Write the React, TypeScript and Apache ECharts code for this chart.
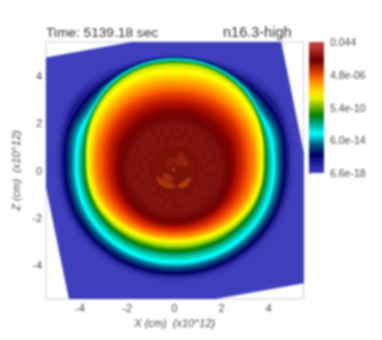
import React, { useEffect, useRef } from "react";
import * as echarts from "echarts";

const titleText = "Time: 5139.18 sec";
const runName = "n16.3-high";
const xName = "X (cm)  (x10^12)";
const zName = "Z (cm)  (x10^12)";
const axisLabels = [-4, -2, 0, 2, 4];
const axisTicks = [-5.4,-5.2,-5,-4.8,-4.6,-4.4,-4.2,-4,-3.8,-3.6,-3.4,-3.2,-3,-2.8,-2.6,-2.4,-2.2,-2,-1.8,-1.6,-1.4,-1.2,-1,-0.8,-0.6,-0.4,-0.2,0,0.2,0.4,0.6,0.8,1,1.2,1.4,1.6,1.8,2,2.2,2.4,2.6,2.8,3,3.2,3.4,3.6,3.8,4,4.2,4.4,4.6,4.8,5,5.2,5.4];
const colorbarLabels = ["6.6e-18", "6.0e-14", "5.4e-10", "4.8e-06", "0.044"];
const colorbarStops: [number, string][] = [
  [0, "#c44a4a"], [0.06, "#b02a2a"], [0.14, "#660000"], [0.23, "#d83a00"], [0.29, "#ff7f00"],
  [0.38, "#ffdc00"], [0.43, "#e8f000"], [0.48, "#90c000"], [0.56, "#008000"], [0.62, "#00a080"],
  [0.7, "#00ffff"], [0.78, "#006080"], [0.86, "#000060"], [0.93, "#2020a0"], [1, "#4040c0"],
];

// The rotated square of the simulation domain, in axis units.
const domainCorners = [[-6.53, 4.59], [4.31, 6.55], [6.58, -4.58], [-4.25, -6.51]];
const domainColor = "#3f3fbd";

// Contour centre, and the contour radii read every 15 degrees on the right half,
// from the top (90) through the side (0) to the bottom (-90).
const contourCentre = [0.03, 0.5];
const contourAngles = [90, 75, 60, 45, 30, 15, 0, -15, -30, -45, -60, -75, -90];
const contourColors = ["#3a3ab6","#2f2fa9","#1b1b8a","#000060","#003372","#006888","#00a8b8","#00e4e8","#00ffff","#00d8b4","#00ac84","#009054","#008000","#40a000","#90c800","#d0e800","#e8f400","#ffff00","#ffe800","#ffd000","#ffb800","#ffa000","#ff8800","#ff7000","#f45800","#e84000","#d83000","#c82000","#b81800","#a81000","#940800","#800000","#700404","#760a08","#7e100e"];
const contourRadii = [
  [4.36,4.42,4.6,4.92,5.1,5.08,5.05,5.12,5.19,5.22,5.22,5.21,5.2],
  [4.34,4.38,4.52,4.78,5.0,4.98,4.94,5.01,5.085,5.11,5.115,5.11,5.1],
  [4.32,4.34,4.42,4.6,4.85,4.87,4.84,4.91,4.985,5.01,5.015,5.01,5.0],
  [4.30,4.31,4.34,4.45,4.62,4.74,4.72,4.79,4.87,4.9,4.91,4.91,4.9],
  [4.29,4.30,4.31,4.36,4.48,4.62,4.60,4.67,4.75,4.78,4.79,4.79,4.78],
  [4.27,4.28,4.28,4.29,4.32,4.49,4.46,4.54,4.61,4.645,4.66,4.655,4.65],
  [4.25,4.26,4.25,4.24,4.2,4.35,4.33,4.41,4.49,4.53,4.55,4.55,4.55],
  [4.23,4.24,4.23,4.19,4.12,4.26,4.26,4.34,4.42,4.46,4.48,4.48,4.48],
  [4.21,4.22,4.21,4.15,4.08,4.2,4.22,4.3,4.38,4.42,4.44,4.44,4.44],
  [4.19,4.2,4.19,4.13,4.05,4.1,4.12,4.19,4.27,4.3,4.31,4.31,4.3],
  [4.17,4.18,4.17,4.12,4.03,4.02,4.03,4.1,4.17,4.185,4.18,4.17,4.16],
  [4.15,4.16,4.15,4.11,4.01,3.95,3.93,4.0,4.065,4.08,4.075,4.06,4.05],
  [4.13,4.14,4.13,4.09,4.0,3.9,3.85,3.92,3.985,4.0,3.995,3.98,3.97],
  [4.10,4.12,4.11,4.07,3.98,3.88,3.81,3.87,3.93,3.925,3.9,3.875,3.86],
  [4.06,4.09,4.08,4.04,3.96,3.86,3.79,3.85,3.89,3.87,3.83,3.79,3.77],
  [3.98,4.02,4.02,3.98,3.91,3.83,3.76,3.81,3.84,3.8,3.74,3.69,3.66],
  [3.87,3.92,3.94,3.92,3.87,3.8,3.73,3.78,3.8,3.75,3.68,3.62,3.59],
  [3.75,3.82,3.85,3.86,3.83,3.78,3.7,3.745,3.76,3.695,3.61,3.545,3.51],
  [3.62,3.68,3.72,3.74,3.73,3.69,3.63,3.68,3.695,3.64,3.565,3.5,3.47],
  [3.50,3.55,3.6,3.63,3.63,3.6,3.56,3.61,3.63,3.585,3.52,3.46,3.43],
  [3.39,3.44,3.49,3.52,3.54,3.53,3.5,3.55,3.575,3.535,3.475,3.42,3.39],
  [3.28,3.33,3.38,3.42,3.45,3.46,3.44,3.49,3.52,3.485,3.43,3.38,3.35],
  [3.15,3.2,3.25,3.31,3.35,3.38,3.38,3.43,3.46,3.43,3.37,3.325,3.295],
  [3.03,3.06,3.12,3.2,3.25,3.3,3.32,3.37,3.405,3.37,3.315,3.27,3.24],
  [2.91,2.95,3.01,3.09,3.14,3.18,3.185,3.245,3.29,3.275,3.24,3.205,3.185],
  [2.8,2.84,2.9,2.98,3.03,3.06,3.05,3.12,3.175,3.18,3.165,3.14,3.13],
  [2.67,2.71,2.77,2.85,2.91,2.95,2.95,3.02,3.08,3.1,3.09,3.075,3.065],
  [2.55,2.58,2.64,2.72,2.8,2.85,2.85,2.92,2.99,3.015,3.02,3.01,3.0],
  [2.45,2.48,2.54,2.61,2.69,2.75,2.75,2.825,2.905,2.94,2.955,2.955,2.95],
  [2.35,2.38,2.44,2.5,2.58,2.65,2.65,2.73,2.82,2.865,2.89,2.9,2.9],
  [2.22,2.25,2.3,2.37,2.45,2.54,2.55,2.635,2.73,2.79,2.83,2.845,2.85],
  [2.10,2.12,2.17,2.24,2.33,2.43,2.45,2.54,2.64,2.715,2.77,2.79,2.8],
  [1.85,1.87,1.92,2,2.08,2.18,2.28,2.375,2.495,2.59,2.665,2.705,2.72],
  [1.72,1.74,1.78,1.86,1.94,2.04,2.14,2.28,2.38,2.46,2.52,2.56,2.58],
  [1.55,1.57,1.61,1.69,1.78,1.88,1.98,2.11,2.22,2.3,2.36,2.4,2.42],
];

// Inner core: a disc with wedges of lighter material.
const coreCentre = [0.04, 0.0];
const coreEdge = 0.94;
const coreColor = "#7a1208";
const coreWedges = [
  { color: "#962410", pts: [[0.04,0.31],[0.25,0.8],[0.61,0.24],[0.4,0.17]] },
  { color: "#8c1c0e", pts: [[-0.17,0.56],[0,0.52],[-0.03,0.17],[-0.38,0.24]] },
  { color: "#ae3a08", pts: [[0.18,-0.6],[0.71,-0.28],[0.54,-0.68],[0.25,-0.75]] },
  { color: "#a83408", pts: [[-0.76,-0.28],[-0.31,-0.46],[0.11,-0.68],[-0.31,-0.75],[-0.62,-0.6]] },
  { color: "#982a0e", pts: [[-0.45,-0.11],[-0.03,-0.28],[-0.17,-0.6],[-0.45,-0.39]] },
];
const coreSpot = [[-0.02, 0.03]];

// Mottled plumes round the core.
const plumeSpots = [
  [-1.1,1.5],[-0.9,1.2],[-0.7,1.6],[-0.5,1.35],[-0.3,1.7],[-0.1,1.2],[0.1,1.55],[0.3,1.85],[0.5,1.3],[0.7,1.55],
  [0.9,1.15],[1.1,1.35],[-1.3,1.0],[-1.5,0.6],[-1.2,0.7],[-1.6,0.15],[-1.25,0.25],[-1.05,0.55],[-1.85,-0.05],[-1.4,-0.2],
  [-1.15,-0.1],[-1.6,-0.5],[-1.3,-0.65],[-1.05,-0.45],[-1.15,-1.0],[-0.85,-1.15],[-0.9,-0.8],[-0.6,-1.3],[-0.35,-1.05],[-0.15,-1.35],
  [0.1,-1.0],[0.3,-1.3],[0.55,-1.15],[0.8,-1.25],[0.95,-0.85],[1.2,-0.95],[1.3,-0.55],[1.55,-0.35],[1.15,-0.2],[1.5,0.05],
  [1.75,0.2],[1.25,0.35],[1.45,0.6],[1.1,0.7],[1.3,1.0],[-0.6,1.05],[0.25,1.15],[0.75,1.0],[-0.3,-1.55],[0.45,-1.6],
];

const xMin = -5.44, xMax = 5.48, yMin = -5.44, yMax = 5.44;

function contourPoints(row: number[]) {
  const pts: number[][] = [];
  const place = (a: number, r: number) => [
    contourCentre[0] + r * Math.cos((a * Math.PI) / 180),
    contourCentre[1] + r * Math.sin((a * Math.PI) / 180),
  ];
  contourAngles.forEach((a, i) => pts.push(place(a, row[i])));
  for (let i = contourAngles.length - 2; i > 0; i--) pts.push(place(180 - contourAngles[i], row[i]));
  return pts;
}

export default function App() {
  const ref = useRef<HTMLDivElement>(null);
  useEffect(() => {
    const chart = echarts.init(ref.current!, null, { renderer: "svg" });
    const poly = (pts: number[][], api: any, fill: string, smooth = 0) => ({
      type: "polygon",
      shape: { points: pts.map((p) => api.coord(p)), smooth },
      style: { fill, stroke: null },
    });
    const textColor = "#4a4a4a";
    const font = "'Liberation Sans', Arial, sans-serif";
    chart.setOption({
      animation: false,
      backgroundColor: "#fff",
      title: [
        { text: titleText, left: 46, top: 25, padding: 0, textStyle: { fontFamily: font, fontSize: 13.7, fontWeight: "normal", color: "#333" } },
        { text: runName, left: 223, top: 24, padding: 0, textStyle: { fontFamily: font, fontSize: 14.5, fontWeight: "normal", color: "#333" } },
      ],
      grid: [
        { left: 46, top: 42, width: 257.5, height: 257, show: true, borderColor: "#cfcfcf", borderWidth: 1, backgroundColor: "#fff" },
        { left: 309, top: 42, width: 15, height: 131 },
      ],
      xAxis: [
        {
          gridIndex: 0, type: "value", min: xMin, max: xMax, splitLine: { show: false },
          axisLine: { show: false },
          axisTick: { show: true, length: 2, lineStyle: { color: "#aaa" }, customValues: axisTicks },
          axisLabel: { customValues: axisLabels, fontFamily: font, fontSize: 11, color: textColor, margin: 3 },
          name: xName, nameLocation: "middle", nameGap: 9,
          nameTextStyle: { fontFamily: font, fontSize: 11, fontStyle: "italic", color: textColor },
        },
        { gridIndex: 1, type: "value", min: 0, max: 1, show: false },
      ],
      yAxis: [
        {
          gridIndex: 0, type: "value", min: yMin, max: yMax, splitLine: { show: false },
          axisLine: { show: false },
          axisTick: { show: true, length: 2, lineStyle: { color: "#aaa" }, customValues: axisTicks },
          axisLabel: { customValues: axisLabels, fontFamily: font, fontSize: 11, color: textColor, margin: 4 },
          name: zName, nameLocation: "middle", nameGap: 12,
          nameTextStyle: { fontFamily: font, fontSize: 11, fontStyle: "italic", color: textColor },
        },
        {
          gridIndex: 1, type: "value", min: 0, max: 4, interval: 1, position: "right",
          splitLine: { show: false }, axisLine: { show: false },
          axisTick: { show: true, length: 2, lineStyle: { color: "#888" } },
          axisLabel: { fontFamily: font, fontSize: 10.5, color: textColor, margin: 6, formatter: (_: number, i: number) => colorbarLabels[i] },
        },
      ],
      series: [
        {
          type: "custom", xAxisIndex: 0, yAxisIndex: 0, clip: true, silent: true,
          data: [[0, 0]],
          renderItem: (_: any, api: any) => poly(domainCorners, api, domainColor),
        },
        {
          type: "custom", xAxisIndex: 0, yAxisIndex: 0, clip: true, silent: true,
          data: contourRadii.map((_, i) => [i, 0]),
          renderItem: (p: any, api: any) => poly(contourPoints(contourRadii[p.dataIndex]), api, contourColors[p.dataIndex], 0.33),
        },
        {
          type: "scatter", xAxisIndex: 0, yAxisIndex: 0, silent: true, symbolSize: 4,
          itemStyle: { color: "#a83430", opacity: 0.25 }, data: plumeSpots,
        },
        {
          type: "custom", xAxisIndex: 0, yAxisIndex: 0, clip: true, silent: true,
          data: [[0, 0]],
          renderItem: (_: any, api: any) => {
            const c = api.coord(coreCentre);
            const e = api.coord([coreCentre[0] + coreEdge, coreCentre[1]]);
            return { type: "circle", shape: { cx: c[0], cy: c[1], r: e[0] - c[0] }, style: { fill: coreColor, stroke: "#6e0a06", lineWidth: 1 } };
          },
        },
        {
          type: "custom", xAxisIndex: 0, yAxisIndex: 0, clip: true, silent: true,
          data: coreWedges.map((_, i) => [i, 0]),
          renderItem: (p: any, api: any) => poly(coreWedges[p.dataIndex].pts, api, coreWedges[p.dataIndex].color, 0.2),
        },
        {
          type: "scatter", xAxisIndex: 0, yAxisIndex: 0, silent: true, symbolSize: 3,
          itemStyle: { color: "#c85a50" }, data: coreSpot,
        },
        {
          type: "custom", xAxisIndex: 1, yAxisIndex: 1, clip: false, silent: true,
          data: [[0, 0]],
          renderItem: (_: any, api: any) => {
            const a = api.coord([0, 4]);
            const b = api.coord([1, 0]);
            return {
              type: "rect",
              shape: { x: a[0], y: a[1], width: b[0] - a[0], height: b[1] - a[1] },
              style: {
                fill: new echarts.graphic.LinearGradient(0, 0, 0, 1, colorbarStops.map(([offset, color]) => ({ offset, color }))),
              },
            };
          },
        },
      ],
    });
    return () => chart.dispose();
  }, []);
  return (
    <div
      ref={ref}
      style={{ position: "absolute", left: 0, top: 0, width: 382, height: 340, filter: "blur(0.9px)" }}
    />
  );
}
